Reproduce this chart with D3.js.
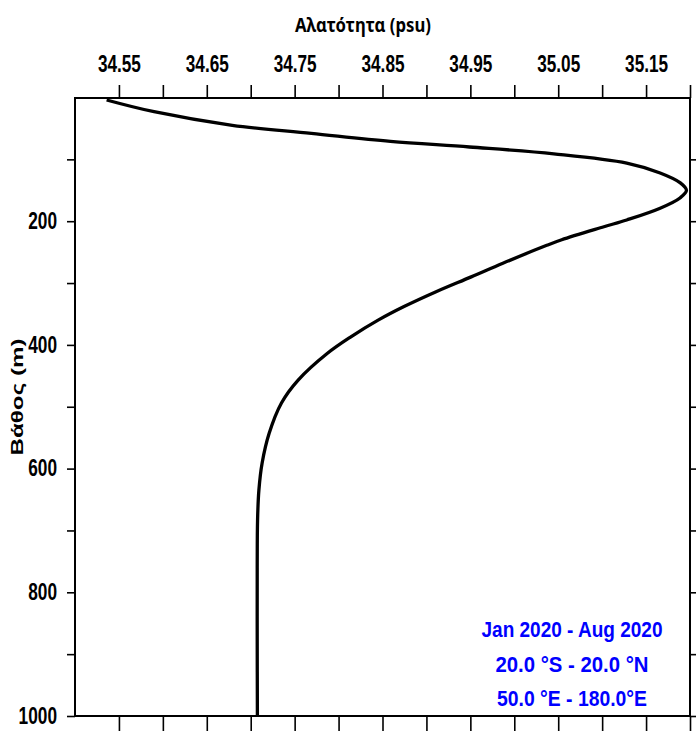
<!DOCTYPE html>
<html>
<head>
<meta charset="utf-8">
<script src="https://cdn.jsdelivr.net/npm/d3@7"></script>
<style>
  body { margin: 0; background: #fff; }
  svg { display: block; }
  .axis text { font-family: "Liberation Sans", Arial, sans-serif; font-weight: bold; font-size: 23px; fill: #000; }
  .axis line { stroke: #000; stroke-width: 1.6px; }
  .axis path { display: none; }
</style>
</head>
<body>
<div id="vis"></div>
<script>

// Data ----------------------------------------------------------------------

var depths = [4, 23, 45, 58, 71, 80, 91, 106, 122, 138, 150, 162, 179, 198, 209,
              230, 239, 268, 290, 314, 338, 360, 387, 414, 457, 494, 543, 591,
              635, 683, 760, 880, 1000];

var salinity = [34.536, 34.590, 34.679, 34.769, 34.859, 34.949, 35.045, 35.128,
                35.166, 35.189, 35.196, 35.189, 35.166, 35.128, 35.102, 35.054,
                35.037, 34.987, 34.951, 34.911, 34.8745, 34.845, 34.814, 34.787,
                34.754, 34.735, 34.721, 34.713, 34.7093, 34.7078, 34.7074,
                34.7074, 34.7076];

var salTicks = [34.55, 34.60, 34.65, 34.70, 34.75, 34.80, 34.85, 34.90, 34.95,
                35.00, 35.05, 35.10, 35.15, 35.20];
var salLabels = ["34.55", "34.65", "34.75", "34.85", "34.95", "35.05", "35.15"];

var depthTicks = [100, 200, 300, 400, 500, 600, 700, 800, 900, 1000];
var depthLabels = ["200", "400", "600", "800", "1000"];

var infoLines = ["Jan 2020 - Aug 2020", "20.0 °S - 20.0 °N", "50.0 °E - 180.0°E"];

var data = depths.map(function(d, i) { return {depth: d, sal: salinity[i]}; });


// Setup ---------------------------------------------------------------------

var W = 696, H = 731;
var plotLeft = 75, plotRight = 690, plotTop = 98, plotBottom = 716;

var svg = d3.select("#vis").append("svg")
  .attr("width", W)
  .attr("height", H);

var x = d3.scaleLinear()
  .domain([34.5, 35.2])
  .range([plotLeft, plotRight]);

var y = d3.scaleLinear()
  .domain([0, 1000])
  .range([plotTop - 0.5, plotBottom]);

function fmtSal(d) {
  var s = d.toFixed(2);
  return salLabels.indexOf(s) >= 0 ? s : "";
}

function fmtDepth(d) {
  return depthLabels.indexOf(String(d)) >= 0 ? String(d) : "";
}


// Axes ----------------------------------------------------------------------

var gTop = svg.append("g")
  .attr("class", "axis")
  .attr("transform", "translate(0," + plotTop + ")")
  .call(d3.axisTop(x).tickValues(salTicks).tickSize(13).tickPadding(13).tickFormat(fmtSal));

gTop.selectAll("text")
  .filter(function(d) { return fmtSal(d) !== ""; })
  .attr("textLength", 43)
  .attr("lengthAdjust", "spacingAndGlyphs");

svg.append("g")
  .attr("class", "axis")
  .attr("transform", "translate(0," + plotBottom + ")")
  .call(d3.axisBottom(x).tickValues(salTicks).tickSize(16).tickFormat(""));

var gLeft = svg.append("g")
  .attr("class", "axis")
  .attr("transform", "translate(" + plotLeft + ",0)")
  .call(d3.axisLeft(y).tickValues(depthTicks).tickSize(8).tickPadding(10).tickFormat(fmtDepth));

gLeft.selectAll("text")
  .filter(function(d) { return fmtDepth(d) !== ""; })
  .attr("textLength", function(d) { return String(d).length * 9.6; })
  .attr("lengthAdjust", "spacingAndGlyphs");

svg.append("g")
  .attr("class", "axis")
  .attr("transform", "translate(" + plotRight + ",0)")
  .call(d3.axisRight(y).tickValues(depthTicks).tickSize(8).tickFormat(""));

// frame
svg.append("rect")
  .attr("x", plotLeft)
  .attr("y", plotTop)
  .attr("width", plotRight - plotLeft)
  .attr("height", plotBottom - plotTop)
  .attr("fill", "none")
  .attr("stroke", "#000")
  .attr("stroke-width", 2);


// Titles --------------------------------------------------------------------

svg.append("text")
  .attr("x", 363)
  .attr("y", 32)
  .attr("text-anchor", "middle")
  .attr("textLength", 136)
  .attr("lengthAdjust", "spacingAndGlyphs")
  .style("font-family", "'Noto Sans', sans-serif")
  .style("font-weight", "bold")
  .style("font-size", "20px")
  .text("Αλατότητα (psu)");

svg.append("text")
  .attr("transform", "translate(23,397) rotate(-90)")
  .attr("text-anchor", "middle")
  .attr("textLength", 117)
  .attr("lengthAdjust", "spacingAndGlyphs")
  .style("font-family", "'Liberation Sans', Arial, sans-serif")
  .style("font-weight", "bold")
  .style("font-size", "16px")
  .text("Βάθος (m)");


// Info box ------------------------------------------------------------------

var infoWidths = [181, 153, 150];
var infoBase = [637, 672, 706];

svg.selectAll(".info")
  .data(infoLines)
  .enter()
  .append("text")
  .attr("class", "info")
  .attr("x", 572)
  .attr("y", function(d, i) { return infoBase[i]; })
  .attr("text-anchor", "middle")
  .attr("textLength", function(d, i) { return infoWidths[i]; })
  .attr("lengthAdjust", "spacingAndGlyphs")
  .style("font-family", "'Liberation Sans', Arial, sans-serif")
  .style("font-weight", "bold")
  .style("font-size", "22px")
  .style("fill", "#0000ff")
  .text(function(d) { return d; });


// Profile -------------------------------------------------------------------

var line = d3.line()
  .x(function(d) { return x(d.sal); })
  .y(function(d) { return y(d.depth); })
  .curve(d3.curveCatmullRom.alpha(0.5));

svg.append("path")
  .datum(data)
  .attr("fill", "none")
  .attr("stroke", "#000")
  .attr("stroke-width", 3.3)
  .attr("stroke-linejoin", "round")
  .attr("d", line);

</script>
</body>
</html>
